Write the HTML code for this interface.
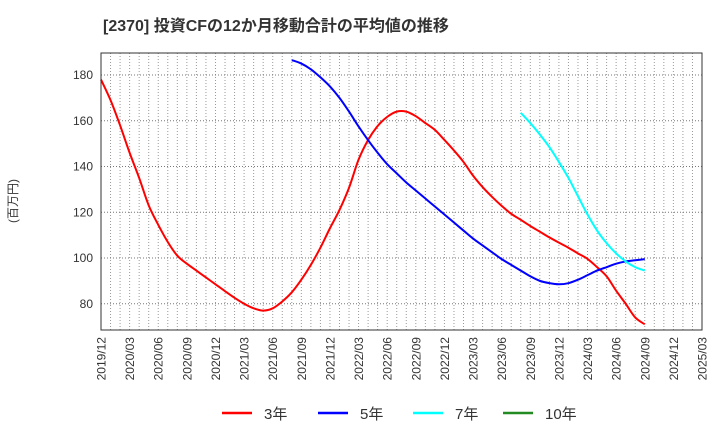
<!DOCTYPE html>
<html><head><meta charset="utf-8"><style>
body{margin:0;background:#fff;}
svg{display:block;font-family:"Liberation Sans","Noto Sans CJK JP",sans-serif;}
</style></head><body>
<svg id="c" width="720" height="440">
<text x="103" y="31" font-size="16" font-weight="bold" fill="#333">[2370]  投資CFの12か月移動合計の平均値の推移</text>
<text transform="translate(17,201) rotate(-90)" text-anchor="middle" font-size="12" fill="#333">(百万円)</text>
<g id="grid"></g><g id="ax"></g><g id="series"></g>
<rect x="101" y="53" width="601" height="277" fill="none" stroke="#333" stroke-width="1"/>
<g>
<line x1="222" y1="413" x2="252" y2="413" stroke="#ff0000" stroke-width="2.5"/>
<text x="264" y="419" font-size="15" fill="#333">3年</text>
<line x1="318" y1="413" x2="348" y2="413" stroke="#0000ff" stroke-width="2.5"/>
<text x="360" y="419" font-size="15" fill="#333">5年</text>
<line x1="413" y1="413" x2="443" y2="413" stroke="#00ffff" stroke-width="2.5"/>
<text x="455" y="419" font-size="15" fill="#333">7年</text>
<line x1="503" y1="413" x2="533" y2="413" stroke="#228b22" stroke-width="2.5"/>
<text x="545" y="419" font-size="15" fill="#333">10年</text>
</g>
</svg>
<script>
const xLabels=["2019/12","2020/03","2020/06","2020/09","2020/12","2021/03","2021/06","2021/09","2021/12","2022/03","2022/06","2022/09","2022/12","2023/03","2023/06","2023/09","2023/12","2024/03","2024/06","2024/09","2024/12","2025/03"];
const yTicks=[80,100,120,140,160,180];
const s3Start=0;
const s3=[178,169,158,146,135,123,114.5,107,101,97.5,94.5,91.5,88.5,85.5,82.6,80,78,77,78,81,85,90.5,97,104.5,113,121,130.7,143,151.6,157.7,161.7,164,164,162,159,156,151.6,147,142,136,131,126.7,122.8,119.3,116.7,114,111.5,109,106.7,104.5,102,99.6,96,92,85.7,80,74,71];
const s5Start=20;
const s5=[186.5,185,182.5,179,175,170,164,157.5,151.5,146,141,137,133,129.5,126,122.5,119,115.5,112,108.5,105.5,102.5,99.5,97,94.5,92,90,89,88.5,89,90.5,92.5,94.5,96,97.5,98.5,99,99.5];
const s7Start=44;
const s7=[163.5,159,154,148.5,142,135,127,119,112,106.5,102,98.5,96,94.5];
const L=101,R=702,T=53,B=330,NM=63;
const x=i=>L+(R-L)*i/NM;
const y=v=>75+(180-v)*(258-75)/80;
const NS="http://www.w3.org/2000/svg";
function mk(t,a,p){const e=document.createElementNS(NS,t);for(const k in a)e.setAttribute(k,a[k]);p.appendChild(e);return e;}
const grid=document.getElementById('grid'),ax=document.getElementById('ax'),ser=document.getElementById('series');
for(let m=1;m<NM;m++){const l=mk('line',{x1:x(m),x2:x(m),y1:T,y2:B,stroke:'#999','stroke-width':1,'stroke-dasharray':'1,2'},grid);

}
yTicks.forEach(v=>{const l=mk('line',{x1:L,x2:R,y1:y(v),y2:y(v),stroke:'#777','stroke-width':1,'stroke-dasharray':'1,2'},grid);


const t=mk('text',{x:L-8,y:y(v)+4,'text-anchor':'end','font-size':12,fill:'#333'},ax);t.textContent=v;

});
xLabels.forEach((s,i)=>{const xx=x(i*3);const t=mk('text',{transform:`translate(${xx+4.5},${B+7}) rotate(-90)`,'text-anchor':'end','font-size':12,fill:'#333'},ax);t.textContent=s;

});
function line(d,st,col,name){
const P=d.map((v,i)=>[x(st+i),y(v)]);
let s='M'+P[0][0]+','+P[0][1];
for(let i=0;i<P.length-1;i++){const p0=P[Math.max(0,i-1)],p1=P[i],p2=P[i+1],p3=P[Math.min(P.length-1,i+2)];
s+=` C${p1[0]+(p2[0]-p0[0])/6},${p1[1]+(p2[1]-p0[1])/6} ${p2[0]-(p3[0]-p1[0])/6},${p2[1]-(p3[1]-p1[1])/6} ${p2[0]},${p2[1]}`;}
const p=mk('path',{d:s,fill:'none',stroke:col,'stroke-width':2,'stroke-linejoin':'round'},ser);

}
line(s3,s3Start,'#ff0000','series-3y');
line(s5,s5Start,'#0000ff','series-5y');
line(s7,s7Start,'#00ffff','series-7y');
</script>
</body></html>
